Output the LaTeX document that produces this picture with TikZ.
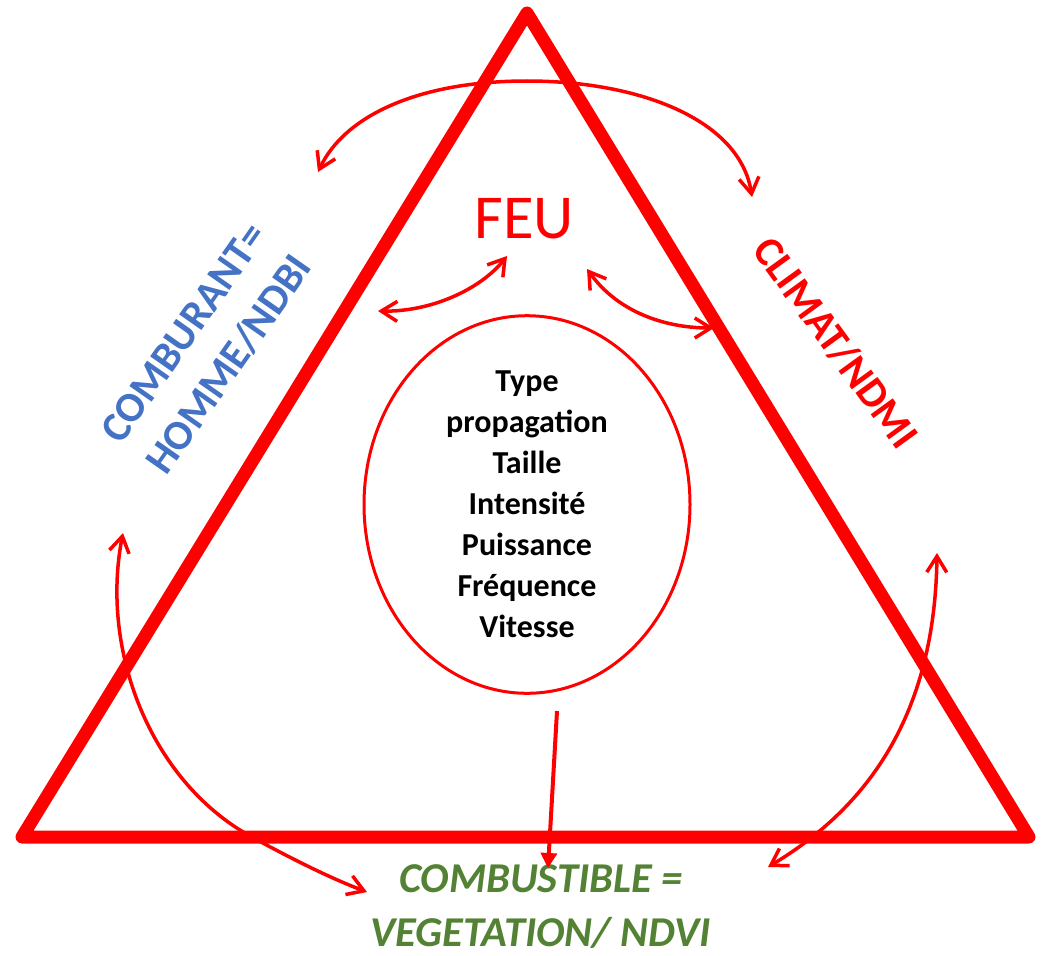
\documentclass[tikz,border=0pt]{standalone}
\usepackage{fontspec}
\setmainfont{Carlito}
\usetikzlibrary{arrows.meta,shapes.geometric}
\definecolor{fred}{RGB}{255,0,0}
\definecolor{fblue}{RGB}{68,114,196}
\definecolor{fgreen}{RGB}{84,130,53}
\begin{document}
\begin{tikzpicture}[x=1pt,y=-1pt,
  tri/.style={draw=fred,line width=13pt,line join=round},
  barb/.tip={Straight Barb[length=16pt,width=20pt]},
  arr/.style={draw=fred,line width=3.5pt,line cap=round,barb-barb},
  onearr/.style={draw=fred,line width=4pt,-{Triangle[length=15pt,width=16pt]}},
  circ/.style={ellipse,draw=fred,line width=3pt,minimum width=326pt,minimum height=363pt,inner sep=0pt,align=center,font=\fontsize{32}{41}\selectfont\bfseries},
  feu/.style={text=fred,font=\fontsize{62.5}{72}\selectfont,inner sep=0pt},
  blue/.style={text=fblue,font=\fontsize{42}{55}\selectfont\bfseries,align=center,rotate=55,inner sep=0pt},
  redlab/.style={text=fred,font=\fontsize{42}{50}\selectfont\bfseries,rotate=-54,inner sep=0pt},
  green/.style={text=fgreen,font=\fontsize{42.5}{54}\selectfont\bfseries\itshape,align=center,inner sep=0pt}]
\useasboundingbox (0,0) rectangle (1048,955);
% triangle
\coordinate (A) at (527,13);
\coordinate (B) at (22,837);
\coordinate (C) at (1029,837);
\draw[tri] (B) -- (A) -- (C) -- cycle;
% nodes
\node[feu] (feu) at (524,219) {FEU};
\node[circ] (ell) at (527,504.5) {Type\\propagation\\Taille\\Intensité\\Puissance\\Fréquence\\Vitesse};
\node[blue] (comb) at (207,349) {COMBURANT=\\HOMME/NDBI};
\node[redlab] (clim) at (836,343) {CLIMAT/NDMI};
\node[green] (veg) at (541,907) {COMBUSTIBLE =\\VEGETATION/ NDVI};
% arrow end points
\coordinate (tl) at (318,172);
\coordinate (tr) at (752,197);
\coordinate (fl) at (378,311);
\coordinate (fu) at (507,256);
\coordinate (fr1) at (587,269);
\coordinate (fr2) at (714,328);
\coordinate (lbt) at (123,533);
\coordinate (lbb) at (367,892);
\coordinate (rbt) at (937,553);
\coordinate (rbb) at (768,867);
\coordinate (vs) at (557,711);
\coordinate (ve) at (548,868);
% connectors
\draw[arr] (tl) .. controls (345,115) and (420,81) .. (527,81) .. controls (640,81) and (740,120) .. (tr);
\draw[arr] (fl) .. controls (430,312) and (480,290) .. (fu);
\draw[arr] (fr1) .. controls (620,315) and (670,328) .. (fr2);
\draw[arr] (lbt) .. controls (100,650) and (150,780) .. (250,836) .. controls (290,858) and (330,878) .. (lbb);
\draw[arr] (rbt) .. controls (935,700) and (880,800) .. (rbb);
\draw[onearr] (vs) -- (ve);
\end{tikzpicture}
\end{document}
